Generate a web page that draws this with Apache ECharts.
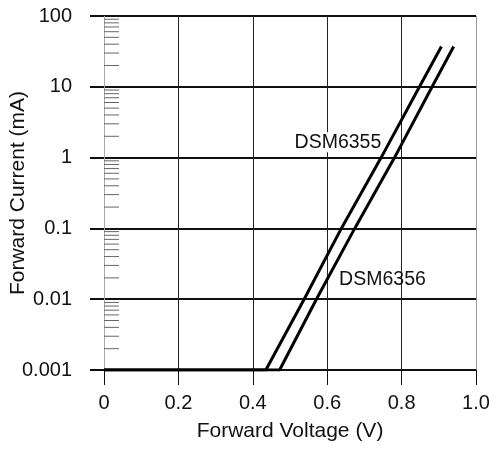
<!DOCTYPE html>
<html>
<head>
<meta charset="utf-8">
<script src="https://cdn.jsdelivr.net/npm/echarts@6/dist/echarts.min.js"></script>
<style>
html,body{margin:0;padding:0;background:#fff;}
#chart{width:494px;height:450px;}
</style>
</head>
<body>
<div id="chart"></div>
<script>
// Data
var voltage6355 = [0, 0.435, 0.538, 0.638, 0.745, 0.848, 0.907];
var current6355 = [0.001, 0.001, 0.01, 0.1, 1, 10, 37];
var voltage6356 = [0, 0.472, 0.571, 0.674, 0.781, 0.882, 0.940];
var current6356 = [0.001, 0.001, 0.01, 0.1, 1, 10, 37];
var xTickLabels = ['0', '0.2', '0.4', '0.6', '0.8', '1.0'];
var yTickLabels = ['0.001', '0.01', '0.1', '1', '10', '100'];
var decades = [0.001, 0.01, 0.1, 1, 10];
var minorFactors = [2, 3, 4, 5, 6, 7, 8, 9];
var label6355 = {name: 'DSM6355', v: 0.748, i: 1.65};
var label6356 = {name: 'DSM6356', v: 0.632, i: 0.0188};

function pairs(xs, ys){ return xs.map(function(x, k){ return [x, ys[k]]; }); }
var minorTicks = [];
decades.forEach(function(d){ minorFactors.forEach(function(f){ minorTicks.push([0, d * f]); }); });

var FONT = '"Liberation Sans", Arial, Helvetica, sans-serif';
var chart = echarts.init(document.getElementById('chart'), null, {renderer: 'canvas'});
chart.setOption({
  animation: false,
  backgroundColor: '#fff',
  grid: {left: 104, right: 18, top: 16, bottom: 80, containLabel: false, outerBoundsMode: 'none'},
  xAxis: {
    type: 'value', min: 0, max: 1.0, interval: 0.2,
    name: 'Forward Voltage (V)', nameLocation: 'middle', nameGap: 51, nameMoveOverlap: false,
    nameTextStyle: {fontFamily: FONT, fontSize: 21, color: '#111'},
    axisLine: {show: false},
    axisTick: {show: true, length: 15, inside: false, lineStyle: {color: '#111', width: 1}},
    axisLabel: {margin: 23, fontFamily: FONT, fontSize: 20, color: '#111',
      formatter: function(v){ return xTickLabels[Math.round(v / 0.2)]; }},
    splitLine: {show: true, lineStyle: {color: ['#aaa', '#222', '#222', '#222', '#222', '#999'], width: 1}}
  },
  yAxis: {
    type: 'log', logBase: 10, min: 0.001, max: 100,
    name: 'Forward Current (mA)', nameLocation: 'middle', nameGap: 75, nameMoveOverlap: false,
    nameTextStyle: {fontFamily: FONT, fontSize: 21, color: '#111'},
    axisLine: {show: false},
    axisTick: {show: true, length: 14, inside: false, lineStyle: {color: '#111', width: 2}},
    axisLabel: {margin: 32, fontFamily: FONT, fontSize: 20, color: '#111',
      formatter: function(v){
        var k = Math.round(Math.log10(v)) + 3;
        return yTickLabels[k];
      }},
    splitLine: {show: true, lineStyle: {color: '#111', width: 2}}
  },
  series: [
    {
      type: 'custom',
      silent: true,
      data: minorTicks,
      renderItem: function(params, api){
        var p = api.coord([api.value(0), api.value(1)]);
        return {type: 'line', shape: {x1: p[0], y1: p[1], x2: p[0] + 15, y2: p[1]},
          style: {stroke: '#666', lineWidth: 1}};
      },
      z: 3
    },
    {
      type: 'line', name: 'DSM6355', data: pairs(voltage6355, current6355),
      showSymbol: false, lineStyle: {color: '#000', width: 3}, z: 5,
      markPoint: {symbol: 'circle', symbolSize: 0, silent: true,
        data: [{coord: [label6355.v, label6355.i], value: label6355.name}],
        label: {show: true, position: 'left', distance: 0, formatter: label6355.name,
          fontFamily: FONT, fontSize: 19.5, color: '#111',
          backgroundColor: '#fff', padding: [0, 1, 0, 0]}}
    },
    {
      type: 'line', name: 'DSM6356', data: pairs(voltage6356, current6356),
      showSymbol: false, lineStyle: {color: '#000', width: 3}, z: 5,
      markPoint: {symbol: 'circle', symbolSize: 0, silent: true,
        data: [{coord: [label6356.v, label6356.i], value: label6356.name}],
        label: {show: true, position: 'right', distance: 0, formatter: label6356.name,
          fontFamily: FONT, fontSize: 19.5, color: '#111'}}
    }
  ]
});
</script>
</body>
</html>
